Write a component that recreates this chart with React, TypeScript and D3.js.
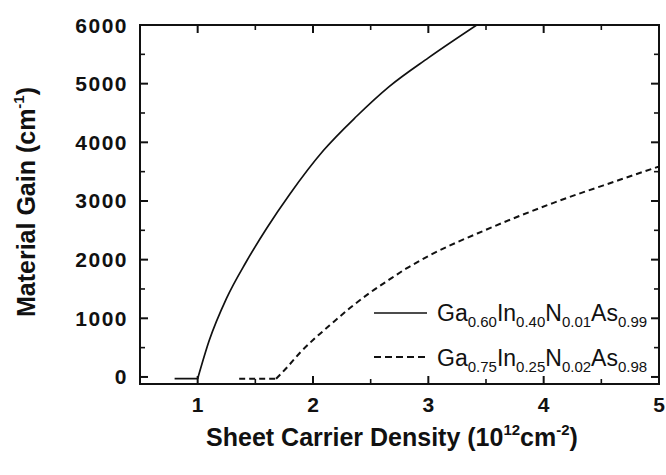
import React from "react";
import * as d3 from "d3";

// flat (below threshold) parts and rising parts of each series
const solidFlatX = [0.8, 1.0];
const solidFlatY = [-30, -30];
const solidX = [1.0, 1.1, 1.25, 1.42, 1.6, 1.8, 2.09, 2.376, 2.66, 3.0, 3.42];
const solidY = [-30, 620, 1340, 1960, 2540, 3120, 3860, 4440, 4950, 5440, 6000];
const dashFlatX = [1.36, 1.68];
const dashFlatY = [-30, -30];
const dashX = [1.68, 1.77, 1.885, 2.0, 2.145, 2.32, 2.49, 2.66, 2.81, 3.0, 3.5, 4.08, 4.66, 5.0];
const dashY = [-30, 153, 409, 630, 880, 1175, 1431, 1658, 1850, 2060, 2509, 2964, 3361, 3588];
const xTicks = [1, 2, 3, 4, 5];
const xMinor = [0.5, 1.5, 2.5, 3.5, 4.5];
const yTicks = [0, 1000, 2000, 3000, 4000, 5000, 6000];
const yMinor = [500, 1500, 2500, 3500, 4500, 5500];
const legend1 = [["Ga", "0.60"], ["In", "0.40"], ["N", "0.01"], ["As", "0.99"]];
const legend2 = [["Ga", "0.75"], ["In", "0.25"], ["N", "0.02"], ["As", "0.98"]];

export default function App() {
  const W = 666, H = 475;
  const L = 140, R = 659, T = 25, B = 384;
  const x = d3.scaleLinear().domain([0.5, 5]).range([L, R]);
  const y = d3.scaleLinear().domain([-120, 6000]).range([B, T]);
  const line = d3.line<[number, number]>().x(d => x(d[0])).y(d => y(d[1])).curve(d3.curveMonotoneX);
  const mk = (xs: number[], ys: number[]) => line(xs.map((v, i) => [v, ys[i]]) as [number, number][]) || "";
  const solid = mk(solidFlatX, solidFlatY) + mk(solidX, solidY);
  const dashed = mk(dashFlatX, dashFlatY) + mk(dashX, dashY);
  const font = "'Liberation Sans', Arial, sans-serif";

  const legendText = (items: string[][], yy: number) => (
    <text x={437} y={yy} fontFamily={font} fontSize={23} fill="#111">
      {items.map(([a, s], i) => (
        <React.Fragment key={i}>
          <tspan dy={i === 0 ? 0 : -6}>{a}</tspan>
          <tspan fontSize={15} dy={6}>{s}</tspan>
        </React.Fragment>
      ))}
    </text>
  );

  return (
    <svg width={W} height={H} style={{ position: "absolute", left: 0, top: 0, background: "#fff" }}>
      <rect x={0} y={0} width={W} height={H} fill="#fff" />
      <clipPath id="clip">
        <rect x={L} y={T} width={R - L} height={B - T} />
      </clipPath>
      <g clipPath="url(#clip)" fill="none" stroke="#111">
        <path d={solid} strokeWidth={1.7} />
        <path d={dashed} strokeWidth={2} strokeDasharray="6,4" />
      </g>
      <rect x={L} y={T} width={R - L} height={B - T} fill="none" stroke="#111" strokeWidth={2} />
      {xTicks.map(t => (
        <g key={"xt" + t} stroke="#111" strokeWidth={2}>
          <line x1={x(t)} x2={x(t)} y1={B} y2={B - 8} />
          <line x1={x(t)} x2={x(t)} y1={T} y2={T + 8} />
        </g>
      ))}
      {xMinor.map(t => (
        <g key={"xm" + t} stroke="#111" strokeWidth={1.6}>
          <line x1={x(t)} x2={x(t)} y1={B} y2={B - 5} />
          <line x1={x(t)} x2={x(t)} y1={T} y2={T + 5} />
        </g>
      ))}
      {yTicks.map(t => (
        <g key={"yt" + t} stroke="#111" strokeWidth={2}>
          <line x1={L} x2={L + 8} y1={y(t)} y2={y(t)} />
          <line x1={R} x2={R - 8} y1={y(t)} y2={y(t)} />
        </g>
      ))}
      {yMinor.map(t => (
        <g key={"ym" + t} stroke="#111" strokeWidth={1.6}>
          <line x1={L} x2={L + 5} y1={y(t)} y2={y(t)} />
          <line x1={R} x2={R - 5} y1={y(t)} y2={y(t)} />
        </g>
      ))}
      {xTicks.map(t => (
        <text key={"xl" + t} x={x(t)} y={412} textAnchor="middle" fontFamily={font} fontWeight="bold" fontSize={21} fill="#111">
          {t}
        </text>
      ))}
      {yTicks.map(t => (
        <text key={"yl" + t} x={128} y={y(t) + 7.5} textAnchor="end" fontFamily={font} fontWeight="bold" fontSize={21} letterSpacing={1.5} fill="#111">
          {t}
        </text>
      ))}
      <text x={392} y={446} textAnchor="middle" fontFamily={font} fontWeight="bold" fontSize={25} fill="#111">
        Sheet Carrier Density (10<tspan fontSize={15} dy={-11}>12</tspan><tspan dy={11}>cm</tspan><tspan fontSize={15} dy={-11}>-2</tspan><tspan dy={11}>)</tspan>
      </text>
      <text transform="translate(35,202) rotate(-90)" textAnchor="middle" fontFamily={font} fontWeight="bold" fontSize={25} fill="#111">
        Material Gain (cm<tspan fontSize={15} dy={-11}>-1</tspan><tspan dy={11}>)</tspan>
      </text>
      <line x1={374} x2={427} y1={313} y2={313} stroke="#111" strokeWidth={1.7} />
      <line x1={374} x2={427} y1={357} y2={357} stroke="#111" strokeWidth={2} strokeDasharray="7,4" />
      {legendText(legend1, 321)}
      {legendText(legend2, 366)}
    </svg>
  );
}
